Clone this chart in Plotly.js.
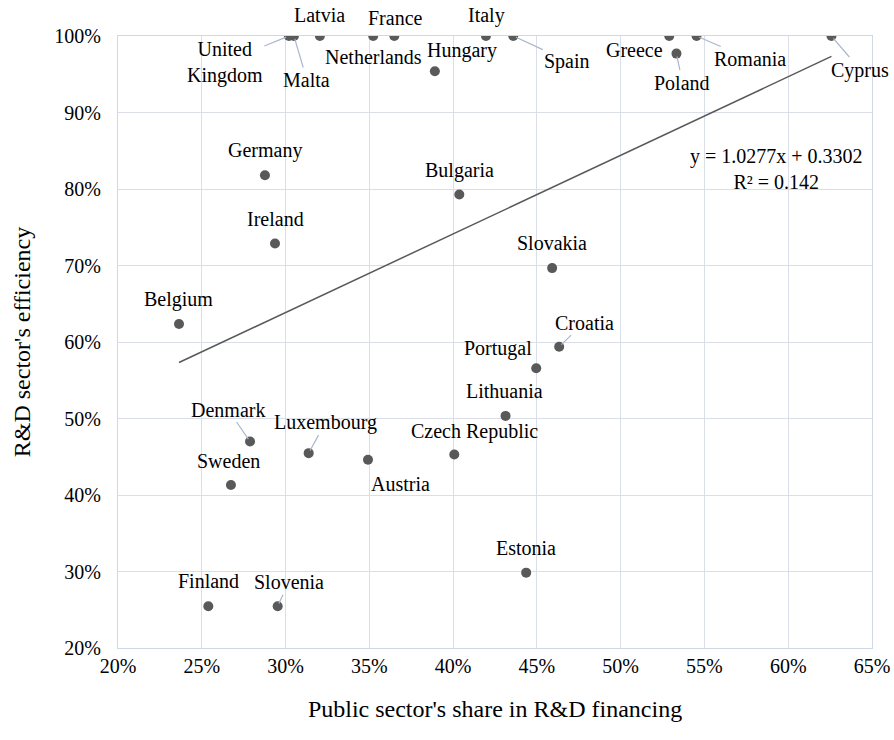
<!DOCTYPE html>
<html>
<head>
<meta charset="utf-8">
<script src="https://cdn.plot.ly/plotly-3.0.1.min.js"></script>
</head>
<body style="margin:0">
<div style="position:absolute;left:4px;top:700px;font-family:'Liberation Serif';font-size:12px;color:#ffffff;z-index:0">Aa</div>
<div id="chart" style="position:relative;z-index:1;width:894px;height:740px"></div>
<script>
// ---- data ----
const countries = ["United Kingdom","Malta","Latvia","Netherlands","France","Hungary","Italy","Spain",
  "Greece","Poland","Romania","Cyprus","Germany","Bulgaria","Ireland","Slovakia","Belgium","Croatia",
  "Portugal","Lithuania","Denmark","Luxembourg","Czech Republic","Austria","Sweden","Estonia","Finland","Slovenia"];
const publicShare = [0.302,0.305,0.3205,0.3523,0.3649,0.3891,0.4196,0.4359,
  0.529,0.5333,0.5453,0.6258,0.2877,0.4037,0.2937,0.4591,0.2364,0.4633,
  0.4496,0.4313,0.2788,0.3138,0.4007,0.3492,0.2674,0.4436,0.2539,0.2953];
const efficiency = [1.0,1.0,1.0,1.0,1.0,0.954,1.0,1.0,
  1.0,0.977,1.0,1.0,0.818,0.7928,0.7288,0.6966,0.6235,0.5939,
  0.5657,0.5034,0.4699,0.4547,0.4529,0.446,0.413,0.2985,0.2546,0.2546];
const trendSlope = 1.0277;
const trendIntercept = 0.3302;
const rSquared = 0.142;
const xTitle = "Public sector's share in R&D financing";
const yTitle = "R&D sector's efficiency";

// ---- label placement (style) : [dx, dy, leader] in pixels ----
const labelPlacement = {
  "United Kingdom":[-64,26,true], "Malta":[13,44,true], "Latvia":[0,-21,false], "Netherlands":[0,21,false],
  "France":[1,-18,false], "Hungary":[27,-21,false], "Italy":[1,-21,false], "Spain":[54,25,true],
  "Greece":[-35,14,false], "Poland":[6,29,true], "Romania":[53,23,true], "Cyprus":[29,34,true],
  "Germany":[0,-25,false], "Bulgaria":[0,-24,false], "Ireland":[0,-24,false], "Slovakia":[0,-25,false],
  "Belgium":[0,-25,false], "Croatia":[25,-24,true], "Portugal":[-38,-20,false], "Lithuania":[-1,-25,false],
  "Denmark":[-22,-32,true], "Luxembourg":[17,-31,true], "Czech Republic":[20,-23,false], "Austria":[33,24,false],
  "Sweden":[-2,-24,false], "Estonia":[0,-25,false], "Finland":[0,-25,false], "Slovenia":[11,-24,true]
};

var serifFamily = "Liberation Serif";
var xMin = Math.min.apply(null, publicShare), xMax = Math.max.apply(null, publicShare);

var points = {
  x: publicShare, y: efficiency, type: 'scatter', mode: 'markers',
  marker: {color: '#595959', size: 10}, showlegend: false
};
var trend = {
  x: [xMin, xMax], y: [trendSlope*xMin + trendIntercept, trendSlope*xMax + trendIntercept],
  type: 'scatter', mode: 'lines', line: {color: '#595959', width: 1.5}, showlegend: false
};

var annotations = countries.map(function (c, i) {
  var p = labelPlacement[c];
  return {
    x: publicShare[i], y: efficiency[i],
    text: c === "United Kingdom" ? "United<br>Kingdom" : c,
    showarrow: true, ax: p[0], ay: p[1],
    arrowhead: 0, arrowwidth: 1.2, standoff: 3,
    arrowcolor: p[2] ? '#A9B7CC' : 'rgba(0,0,0,0)',
    font: {family: serifFamily, size: 20, color: '#000000'}
  };
});
annotations.push({
  xref: 'paper', yref: 'paper', x: 0.874, y: 0.783, xanchor: 'center', yanchor: 'middle',
  text: 'y = ' + trendSlope + 'x + ' + trendIntercept + '<br>R² = ' + rSquared,
  showarrow: false, font: {family: serifFamily, size: 20, color: '#000000'}
});

var layout = {
  width: 894, height: 740,
  margin: {l: 118, r: 22, t: 35.5, b: 91.5},
  xaxis: {
    range: [0.2, 0.65], dtick: 0.05, tickformat: '.0%',
    gridcolor: '#D9DEE8',
    showline: true, linecolor: '#D0D7E5', mirror: true, zeroline: false,
    tickfont: {family: serifFamily, size: 20, color: '#000000'},
    title: {text: xTitle, font: {family: serifFamily, size: 24, color: '#000000'}, standoff: 24}
  },
  yaxis: {
    range: [0.2, 1.0], dtick: 0.1, tickformat: '.0%',
    gridcolor: '#D9DEE8',
    showline: true, linecolor: '#D0D7E5', mirror: true, zeroline: false,
    ticklabelstandoff: 12,
    tickfont: {family: serifFamily, size: 20, color: '#000000'},
    title: {text: yTitle, font: {family: serifFamily, size: 24, color: '#000000'}, standoff: 16}
  },
  annotations: annotations
};

Plotly.newPlot('chart', [trend, points], layout, {displayModeBar: false});
</script>
</body>
</html>
